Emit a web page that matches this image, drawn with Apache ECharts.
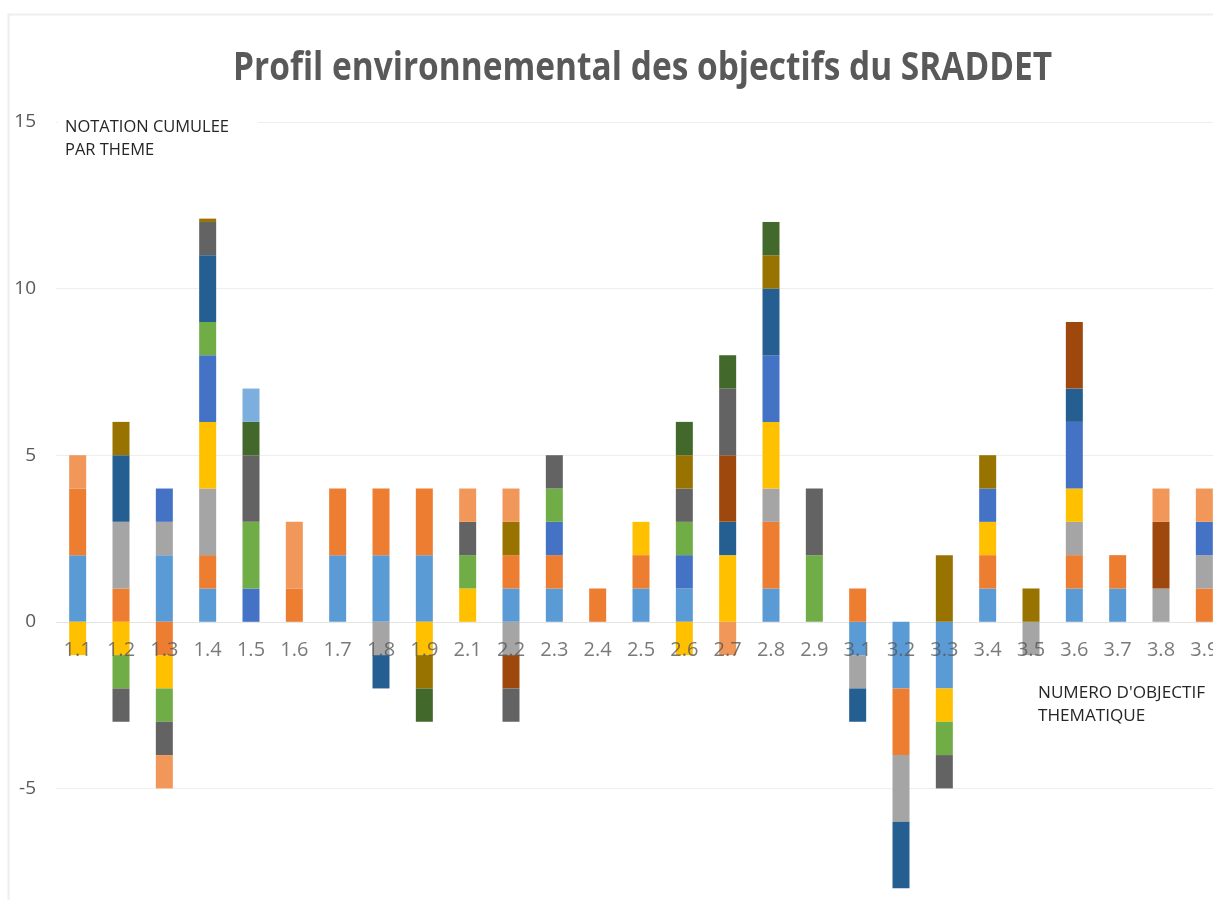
<!DOCTYPE html>
<html>
<head>
<meta charset="utf-8">
<title>Profil environnemental des objectifs du SRADDET</title>
<script src="https://cdn.jsdelivr.net/npm/echarts@6/dist/echarts.min.js"></script>
<style>
  html, body { margin: 0; padding: 0; background: #ffffff; }
  #chart { width: 1213px; height: 900px; }
</style>
</head>
<body>
<div id="chart"></div>
<script>
// Objectifs thématiques (axe des catégories)
const categories = ['1.1','1.2','1.3','1.4','1.5','1.6','1.7','1.8','1.9',
                    '2.1','2.2','2.3','2.4','2.5','2.6','2.7','2.8','2.9',
                    '3.1','3.2','3.3','3.4','3.5','3.6','3.7','3.8','3.9'];

// Notes par thème environnemental, une valeur par objectif
const theme1  = [2,0,2,1,0,0,2,2,2,0,1,1,0,1,1,0,1,0,-1,-2,-2,1,0,1,1,0,0];
const theme2  = [2,1,-1,1,0,1,2,2,2,0,1,1,1,1,0,0,2,0,1,-2,0,1,0,1,1,0,1];
const theme3  = [0,2,1,2,0,0,0,-1,0,0,-1,0,0,0,0,0,1,0,-1,-2,0,0,-1,1,0,1,1];
const theme4  = [-1,-1,-1,2,0,0,0,0,-1,1,0,0,0,1,-1,2,2,0,0,0,-1,1,0,1,0,0,0];
const theme5  = [0,0,1,2,1,0,0,0,0,0,0,1,0,0,1,0,2,0,0,0,0,1,0,2,0,0,1];
const theme6  = [0,-1,-1,1,2,0,0,0,0,1,0,1,0,0,1,0,0,2,0,0,-1,0,0,0,0,0,0];
const theme7  = [0,2,0,2,0,0,0,-1,0,0,0,0,0,0,0,1,2,0,-1,-2,0,0,0,1,0,0,0];
const theme8  = [0,0,0,0,0,0,0,0,0,0,-1,0,0,0,0,2,0,0,0,0,0,0,0,2,0,2,0];
const theme9  = [0,-1,-1,1,2,0,0,0,0,1,-1,1,0,0,1,2,0,2,0,0,-1,0,0,0,0,0,0];
const theme10 = [0,1,0,0.1,0,0,0,0,-1,0,1,0,0,0,1,0,1,0,0,0,2,1,1,0,0,0,0];
const theme11 = [0,0,0,0,1,0,0,0,-1,0,0,0,0,0,1,1,1,0,0,0,0,0,0,0,0,0,0];
const theme12 = [0,0,0,0,1,0,0,0,0,0,0,0,0,0,0,0,0,0,0,0,0,0,0,0,0,0,0];
const theme13 = [1,0,-1,0,0,2,0,0,0,1,1,0,0,0,0,-1,0,0,0,0,0,0,0,0,0,1,1];

const themes = [theme1, theme2, theme3, theme4, theme5, theme6, theme7,
                theme8, theme9, theme10, theme11, theme12, theme13];
const themeColors = ['#5B9BD5','#ED7D31','#A5A5A5','#FFC000','#4472C4','#70AD47',
                     '#255E91','#9E480E','#636363','#997300','#43682B','#7CAFDD','#F1975A'];

// Graduations de l'axe des notes
const yMin = -10, yMax = 15, yStep = 5;

const titleText = 'Profil environnemental des objectifs du SRADDET';
const yAxisNote = ['NOTATION CUMULEE', 'PAR THEME'];
const xAxisNote = ["NUMERO D'OBJECTIF", 'THEMATIQUE'];

// Largeur d'un texte pour un style donné (sert à caler la largeur des textes)
const measureCtx = document.createElement('canvas').getContext('2d');
function textWidth(text, font) {
  measureCtx.font = font;
  return measureCtx.measureText(text).width;
}

const titleFont = 'bold 39px "Open Sans"';
const titleScale = 819 / textWidth(titleText, titleFont);
const noteFont = '17px "Open Sans"';
const noteScaleY = 164 / textWidth(yAxisNote[0], noteFont);
const noteScaleX = 167 / textWidth(xAxisNote[0], noteFont);

const chart = echarts.init(document.getElementById('chart'), null, { renderer: 'canvas' });

const series = themes.map((values, i) => ({
  name: 'Thème ' + (i + 1),
  type: 'bar',
  stack: 'notes',
  barWidth: 17,
  data: values,
  itemStyle: { color: themeColors[i] },
  emphasis: { disabled: true }
}));

// Numéros d'objectif posés sur la ligne du zéro, par-dessus les barres
series.push({
  name: 'Objectifs',
  type: 'scatter',
  silent: true,
  z: 10,
  symbolSize: 0,
  data: categories.map((c, i) => ({ name: c, value: [i, 0] })),
  label: {
    show: true,
    position: 'bottom',
    distance: 18,
    formatter: '{b}',
    color: '#595959',
    fontFamily: 'Open Sans',
    fontSize: 20
  },
  emphasis: { disabled: true }
});

function noteText(lines, x, y, scale) {
  return lines.map((line, k) => ({
    type: 'text',
    x: x,
    y: y + k * 23,
    scaleX: scale,
    z: 20,
    style: {
      text: line,
      font: noteFont,
      fill: '#262626',
      textAlign: 'left',
      textVerticalAlign: 'middle'
    }
  }));
}

chart.setOption({
  backgroundColor: '#ffffff',
  animation: false,
  grid: {
    left: 56,
    right: -13,
    top: 122,
    bottom: -55,
    containLabel: false,
    outerBoundsMode: 'none'
  },
  xAxis: {
    type: 'category',
    data: categories,
    axisLine: { show: true, onZero: true, lineStyle: { color: '#e4e4e4', width: 1 } },
    axisTick: { show: false },
    axisLabel: { show: false },
    splitLine: { show: false }
  },
  yAxis: {
    type: 'value',
    min: yMin,
    max: yMax,
    interval: yStep,
    axisLine: { show: false },
    axisTick: { show: false },
    axisLabel: {
      margin: 20,
      color: '#595959',
      fontFamily: 'Open Sans',
      fontSize: 19
    },
    splitLine: { show: true, lineStyle: { color: '#eeeeee', width: 1 } }
  },
  series: series,
  graphic: [
    {
      type: 'rect',
      z: -1,
      silent: true,
      shape: { x: 8.5, y: 14.5, width: 1300, height: 1000 },
      style: { fill: 'none', stroke: '#eeeeee', lineWidth: 2 }
    },
    {
      type: 'text',
      x: 233,
      y: 69,
      scaleX: titleScale,
      z: 20,
      style: {
        text: titleText,
        font: titleFont,
        fill: '#595959',
        textAlign: 'left',
        textVerticalAlign: 'middle'
      }
    },
    {
      type: 'rect',
      z: 15,
      silent: true,
      shape: { x: 58, y: 110, width: 200, height: 52 },
      style: { fill: '#ffffff' }
    }
  ].concat(noteText(yAxisNote, 65, 127, noteScaleY))
   .concat(noteText(xAxisNote, 1038, 693, noteScaleX))
});
</script>
</body>
</html>
